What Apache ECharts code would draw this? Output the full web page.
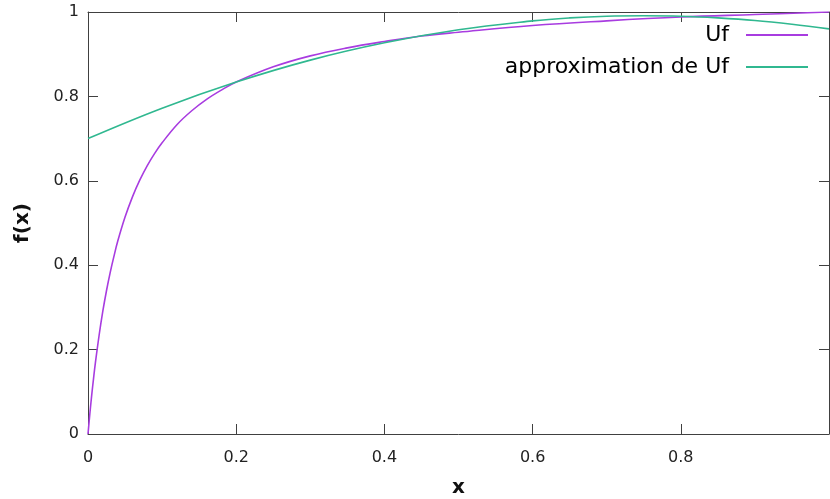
<!DOCTYPE html>
<html>
<head>
<meta charset="utf-8">
<script src="https://cdn.jsdelivr.net/npm/echarts@6/dist/echarts.min.js"></script>
<style>
	html, body { margin: 0; padding: 0; background: #fff; }
	#chart { width: 830px; height: 499px; }
</style>
</head>
<body>
<div id="chart"></div>
<script>
"use strict";

// values
var ufX = [0, 0.0025, 0.005, 0.0075, 0.01, 0.015, 0.02, 0.025, 0.03, 0.035, 0.04, 0.05, 0.06, 0.07, 0.08, 0.09, 0.1, 0.12, 0.14, 0.16, 0.18, 0.2, 0.25, 0.3, 0.35, 0.4, 0.45, 0.5, 0.6, 0.7, 0.8, 0.9, 1.0];
var ufY = [0, 0.048, 0.092, 0.132, 0.169, 0.234, 0.291, 0.340, 0.383, 0.421, 0.456, 0.514, 0.562, 0.602, 0.636, 0.665, 0.690, 0.733, 0.766, 0.793, 0.815, 0.834, 0.870, 0.896, 0.915, 0.930, 0.943, 0.952, 0.968, 0.979, 0.988, 0.994, 1.0];

var approxX = [0, 0.1, 0.2, 0.3, 0.4, 0.5, 0.6, 0.65, 0.7, 0.75, 0.8, 0.85, 0.9, 0.95, 1.0];
var approxY = [0.70, 0.772, 0.834, 0.886, 0.927, 0.958, 0.979, 0.986, 0.990, 0.991, 0.990, 0.986, 0.980, 0.971, 0.96];

var seriesNames = ['Uf', 'approximation de Uf'];
var seriesColors = ['#a83ce0', '#30b890'];

var AXIS_COLOR = '#404040';
var FONT = 'DejaVu Sans';

function pairs(xs, ys) {
	var out = [];
	for (var i = 0; i < xs.length; i++) {
		out.push([xs[i], ys[i]]);
	}
	return out;
}

function frameAxis(position) {
	return {
		type: 'value',
		position: position,
		min: 0,
		max: 1,
		interval: 0.2,
		axisLine: { show: true, onZero: false, lineStyle: { color: AXIS_COLOR, width: 1 } },
		axisTick: { show: true, inside: true, length: 10, lineStyle: { color: AXIS_COLOR } },
		axisLabel: { show: false },
		splitLine: { show: false }
	};
}

function curve(idx, xs, ys) {
	return {
		name: seriesNames[idx],
		type: 'line',
		smooth: 0.4,
		symbol: 'none',
		lineStyle: { color: seriesColors[idx], width: 1.6 },
		itemStyle: { color: seriesColors[idx] },
		data: pairs(xs, ys)
	};
}

var chart = echarts.init(document.getElementById('chart'));

var bottomAxis = frameAxis('bottom');
bottomAxis.axisLabel = { show: true, showMaxLabel: false, fontFamily: FONT, fontSize: 16, color: '#222', margin: 16 };
bottomAxis.name = 'x';
bottomAxis.nameLocation = 'middle';
bottomAxis.nameGap = 44;
bottomAxis.nameTextStyle = { fontFamily: FONT, fontSize: 20, fontWeight: 'bold', color: '#111' };

var leftAxis = frameAxis('left');
leftAxis.axisLabel = { show: true, fontFamily: FONT, fontSize: 16, color: '#222', margin: 9 };
leftAxis.name = 'f(x)';
leftAxis.nameLocation = 'middle';
leftAxis.nameGap = 55;
leftAxis.nameTextStyle = { fontFamily: FONT, fontSize: 20, fontWeight: 'bold', color: '#111' };

chart.setOption({
	animation: false,
	backgroundColor: '#fff',
	grid: {
		left: 88,
		top: 12,
		right: 1,
		bottom: 65,
		outerBoundsMode: 'none'
	},
	legend: {
		right: 21,
		top: 24,
		orient: 'vertical',
		align: 'right',
		padding: 0,
		itemGap: 10,
		itemWidth: 62,
		itemHeight: 4,
		itemStyle: { opacity: 0 },
		textStyle: { fontFamily: FONT, fontSize: 22, lineHeight: 22, color: '#000', padding: [0, 12, 0, 0] },
		data: seriesNames
	},
	xAxis: [bottomAxis, frameAxis('top')],
	yAxis: [leftAxis, frameAxis('right')],
	series: [
		curve(0, ufX, ufY),
		curve(1, approxX, approxY),
		// empty series so the top and right frame axes get drawn
		{ type: 'line', xAxisIndex: 1, yAxisIndex: 1, symbol: 'none', data: [] }
	]
});
</script>
</body>
</html>
